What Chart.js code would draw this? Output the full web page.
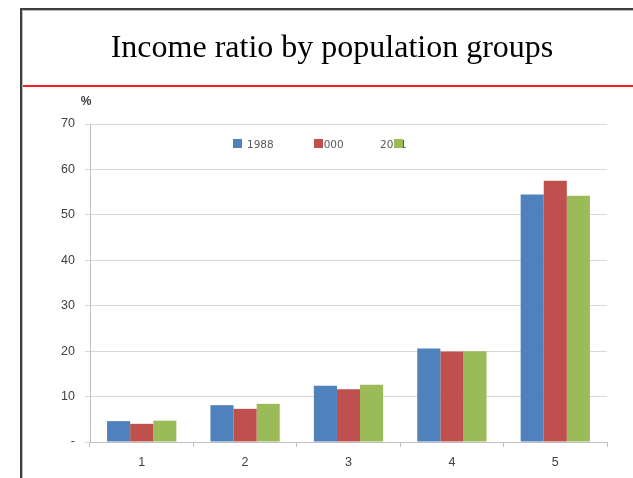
<!DOCTYPE html>
<html>
<head>
<meta charset="utf-8">
<script src="https://cdn.jsdelivr.net/npm/chart.js@4/dist/chart.umd.min.js"></script>
<style>
html,body{margin:0;padding:0;background:#fff;}
#wrap{position:relative;width:633px;height:478px;}
</style>
</head>
<body>
<div id="wrap"><canvas id="c" width="633" height="478"></canvas></div>
<script>
const titleText = "Income ratio by population groups";
const unitLabel = "%";
const categories = ["1", "2", "3", "4", "5"];
const seriesNames = ["1988", "2000", "2011"];
const values1988 = [4.6, 8.1, 12.4, 20.6, 54.5];
const values2000 = [4.0, 7.3, 11.6, 19.9, 57.5];
const values2011 = [4.7, 8.4, 12.6, 20.0, 54.2];
const yTicks = [0, 10, 20, 30, 40, 50, 60, 70];
const colors = ["#4f81bd", "#c0504d", "#9bbb59"];

const decor = {
  id: "decor",
  beforeDraw(chart) {
    const ctx = chart.ctx;
    ctx.save();
    ctx.fillStyle = "#fff";
    ctx.fillRect(0, 0, chart.width, chart.height);
    // frame
    ctx.fillStyle = "#3f3f3f";
    ctx.fillRect(20, 8, 613, 2);
    ctx.fillRect(20, 8, 2, 470);
    ctx.fillStyle = "#bcbcbc";
    ctx.fillRect(22, 10, 611, 1);
    ctx.fillRect(22, 10, 1, 468);
    // red rule
    ctx.fillStyle = "#ff2020";
    ctx.fillRect(23, 85, 610, 2);
    // title
    ctx.fillStyle = "#000";
    ctx.font = "32px 'Liberation Serif'";
    ctx.textAlign = "center";
    ctx.textBaseline = "alphabetic";
    ctx.fillText(titleText, 332, 57);
    // unit label
    ctx.fillStyle = "#404040";
    ctx.font = "bold 12px 'Liberation Sans'";
    ctx.fillText(unitLabel, 86, 105);
    ctx.restore();
  },
  afterDatasetsDraw(chart) {
    const ctx = chart.ctx;
    ctx.save();
    ctx.font = "10.5px 'DejaVu Sans'";
    ctx.textAlign = "left";
    ctx.textBaseline = "alphabetic";
    const textX = [247, 317, 380];
    const boxX = [233, 314, 394];
    seriesNames.forEach((n, i) => {
      ctx.fillStyle = "#595959";
      ctx.fillText(n, textX[i], 148);
    });
    seriesNames.forEach((n, i) => {
      ctx.fillStyle = colors[i];
      ctx.fillRect(boxX[i], 139, 9, 9);
    });
    ctx.restore();
  }
};

new Chart(document.getElementById("c"), {
  type: "bar",
  data: {
    labels: categories,
    datasets: [
      { label: seriesNames[0], data: values1988, backgroundColor: colors[0] },
      { label: seriesNames[1], data: values2000, backgroundColor: colors[1] },
      { label: seriesNames[2], data: values2011, backgroundColor: colors[2] }
    ]
  },
  options: {
    responsive: false,
    animation: false,
    devicePixelRatio: 1,
    datasets: { bar: { categoryPercentage: 0.67, barPercentage: 1.0, borderWidth: 0 } },
    layout: { padding: { top: 124, right: 26, bottom: 0, left: 0 } },
    plugins: { legend: { display: false }, title: { display: false }, tooltip: { enabled: false } },
    scales: {
      x: {
        afterFit(s) { s.height = 36; },
        grid: { offset: true, drawOnChartArea: false, drawTicks: true, tickLength: 5, color: "#bfbfbf" },
        border: { color: "#bfbfbf" },
        ticks: { color: "#404040", font: { family: "'Liberation Sans'", size: 12.5 }, padding: 8 }
      },
      y: {
        min: 0, max: 70,
        afterFit(s) { s.width = 90; },
        afterBuildTicks(s) { s.ticks = yTicks.map(v => ({ value: v })); },
        grid: { color: "#d9d9d9", drawTicks: true, tickLength: 5 },
        border: { color: "#bfbfbf" },
        ticks: {
          color: "#404040", font: { family: "'Liberation Sans'", size: 12.5 }, padding: 10,
          callback: v => (v === 0 ? "-" : String(v))
        }
      }
    }
  },
  plugins: [decor]
});
</script>
</body>
</html>
